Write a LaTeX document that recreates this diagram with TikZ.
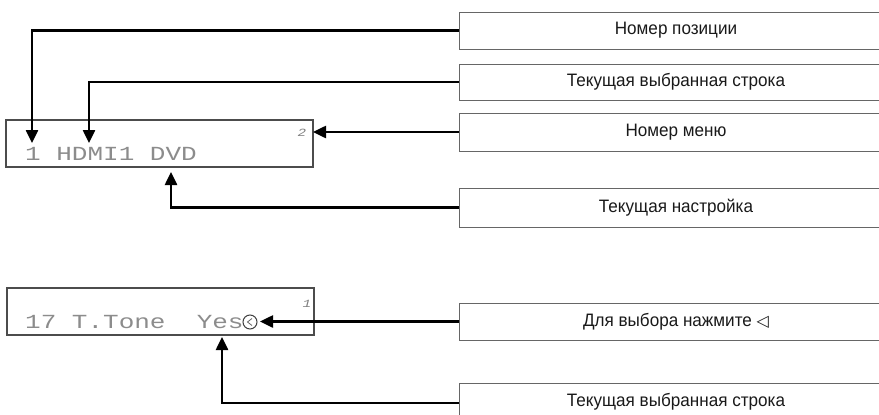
\documentclass[tikz,border=0pt]{standalone}
\usepackage{fontspec}
\setmainfont{Liberation Sans}
\newfontfamily\lblfont[FakeStretch=0.95]{Liberation Sans}
\newfontfamily\lcdfont[FakeStretch=1.3]{Liberation Mono}
\newfontfamily\symfont{DejaVu Sans}
\usetikzlibrary{arrows.meta}
\begin{document}
\begin{tikzpicture}[x=1pt,y=1pt,
  lblbox/.style={draw=black!60, line width=1pt, minimum width=434pt, inner sep=0pt,
     font=\lblfont\fontsize{18}{20}\selectfont, text=black!90},
  lcdbox/.style={draw=black!70, line width=1.3pt, minimum width=307pt, minimum height=47pt, inner sep=0pt},
  lcdtext/.style={font=\lcdfont\fontsize{20}{22}\selectfont, text=black!45, anchor=base west, inner sep=0pt},
  lcdnum/.style={font=\lcdfont\itshape\fontsize{11}{12}\selectfont, text=black!50, inner sep=0pt},
  conn/.style={line width=2.5pt, -{Triangle[length=13pt,width=12pt]}, black}
]
\useasboundingbox (0,0) rectangle (879,-415);
\clip (0,0) rectangle (879,-415);

% LCD displays
\node[lcdbox] (lcd1) at (159.5,-143.5) {};
\node[lcdbox] (lcd2) at (160.5,-311.5) {};
\node[lcdtext] (t1) at (25,-160) {1 HDMI1 DVD};
\node[lcdtext] (t2) at (25,-328) {17 T.Tone~~Yes};
\node[lcdnum] (n1) at (302,-133) {2};
\node[lcdnum] (n2) at (307,-304) {1};
\draw[black!75, line width=1pt] (250,-322) circle (7);
\draw[black!60, line width=0.8pt] (252,-318.5) -- (247.5,-322) -- (252,-325.5);

% label boxes
\node[lblbox, minimum height=37pt] (b1) at (676,-30.5) {Номер позиции};
\node[lblbox, minimum height=36pt] (b2) at (676,-82) {Текущая выбранная строка};
\node[lblbox, minimum height=38pt] (b3) at (676,-132) {Номер меню};
\node[lblbox, minimum height=39pt] (b4) at (676,-207.5) {Текущая настройка};
\node[lblbox, minimum height=37pt] (b5) at (676,-321.5) {Для выбора нажмите {\symfont\fontsize{16}{17}\selectfont ◁}};
\node[lblbox, minimum height=37pt] (b6) at (676,-401.5) {Текущая выбранная строка};

% arrow targets
\coordinate (a1) at (32,-143);
\coordinate (a2) at (89,-143);
\coordinate (a3) at (313,-132);
\coordinate (a4) at (171,-172);
\coordinate (a5) at (260,-321.5);
\coordinate (a6) at (222,-337);

\draw[conn] (b1.west) -| (a1);
\draw[conn] (b2.west) -| (a2);
\draw[conn] (b3.west) -- (a3);
\draw[conn] (b4.west) -| (a4);
\draw[conn] (b5.west) -- (a5);
\draw[conn] ([yshift=-1.5pt]b6.west) -| (a6);
\end{tikzpicture}
\end{document}
